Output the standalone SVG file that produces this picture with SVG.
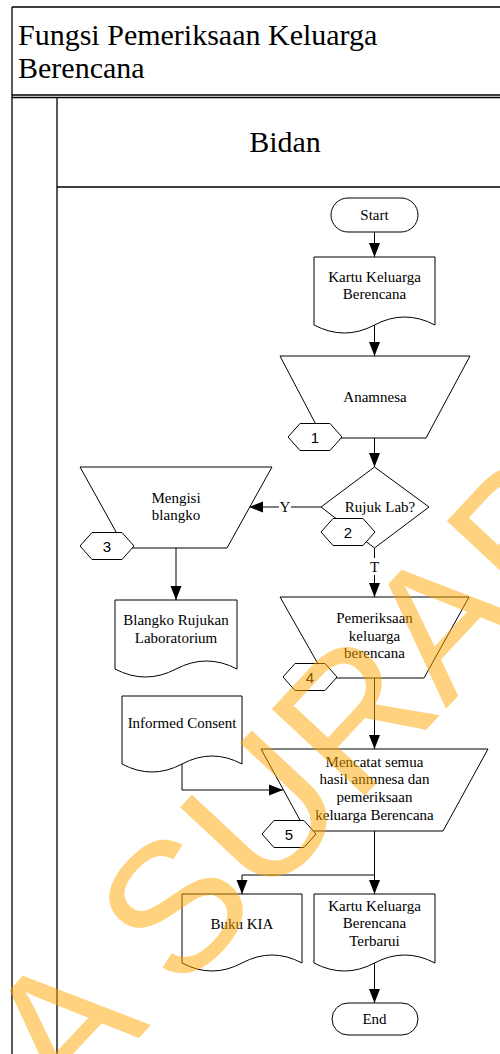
<svg xmlns="http://www.w3.org/2000/svg" width="500" height="1054" viewBox="0 0 500 1054">
  <style>
    .ln { fill: none; stroke: #000; stroke-width: 1.3; }
    .shape { fill: #fff; stroke: #000; stroke-width: 1; }
    .lbl { font-family: "Liberation Serif", "Times New Roman", serif; font-size: 15px; fill: #000; text-anchor: middle; }
    .num { font-family: "Liberation Sans", Arial, sans-serif; font-size: 15px; fill: #000; text-anchor: middle; }
    .head { font-family: "Liberation Serif", "Times New Roman", serif; font-size: 30px; fill: #000; }
    .conn { fill: none; stroke: #000; stroke-width: 1; }
    .wm { font-family: "Liberation Sans", Arial, sans-serif; font-size: 185px; fill: #FFA500; fill-opacity: 0.5; }
  </style>
  <defs>
    <marker id="arrow" markerUnits="userSpaceOnUse" markerWidth="14" markerHeight="12" refX="14" refY="6" orient="auto">
      <path d="M0,0.5 L14,6 L0,11.5 Z" fill="#000"/>
    </marker>
  </defs>

  <rect width="500" height="1054" fill="#fff"/>

  <!-- swimlane frame -->
  <g id="frame">
    <line class="ln" x1="12" y1="7" x2="500" y2="7"/>
    <line class="ln" x1="12" y1="7" x2="12" y2="1054"/>
    <line class="ln" x1="12" y1="95" x2="500" y2="95"/>
    <line class="ln" x1="12" y1="97.5" x2="500" y2="97.5"/>
    <line class="ln" x1="57" y1="97.5" x2="57" y2="1054"/>
    <line class="ln" x1="57" y1="187" x2="500" y2="187"/>
    <text class="head" x="18" y="45">Fungsi Pemeriksaan Keluarga</text>
    <text class="head" x="18" y="78">Berencana</text>
    <text class="head" x="285" y="152" text-anchor="middle">Bidan</text>
  </g>

  <!-- connectors -->
  <g id="connectors">
    <path class="conn" d="M374.5,232 V257" marker-end="url(#arrow)"/>
    <path class="conn" d="M374.5,325 V356" marker-end="url(#arrow)"/>
    <path class="conn" d="M374.5,438 V467" marker-end="url(#arrow)"/>
    <path class="conn" d="M321,507 H291"/>
    <path class="conn" d="M279,507 H249" marker-end="url(#arrow)"/>
    <text class="lbl" x="285" y="512">Y</text>
    <path class="conn" d="M374.5,548 V558"/>
    <path class="conn" d="M374.5,575 V597" marker-end="url(#arrow)"/>
    <text class="lbl" x="374.5" y="572">T</text>
    <path class="conn" d="M176,548 V600" marker-end="url(#arrow)"/>
    <path class="conn" d="M374.5,678 V749" marker-end="url(#arrow)"/>
    <path class="conn" d="M182,764 V790 H283" marker-end="url(#arrow)"/>
    <path class="conn" d="M374.5,831 V894" marker-end="url(#arrow)"/>
    <path class="conn" d="M374.5,875 H242 V894" marker-end="url(#arrow)"/>
    <path class="conn" d="M374.5,963 V1003" marker-end="url(#arrow)"/>
  </g>

  <g id="start">
    <rect class="shape" x="331" y="198" width="87" height="34" rx="17"/>
    <text class="lbl" x="374.5" y="220">Start</text>
  </g>

  <g id="doc-kartu-kb">
    <path class="shape" d="M314,257 H435 V325 Q404.5,309 374.5,325 T314,325 Z"/>
    <text class="lbl" x="374.5" y="282">Kartu Keluarga</text>
    <text class="lbl" x="374.5" y="299">Berencana</text>
  </g>

  <g id="op-anamnesa">
    <polygon class="shape" points="280,356 470,356 426,438 323,438"/>
    <text class="lbl" x="375" y="402">Anamnesa</text>
    <polygon class="shape" points="288,437 300,423.5 330,423.5 342,437 330,450.5 300,450.5"/>
    <text class="num" x="315" y="442.5">1</text>
  </g>

  <g id="dec-rujuk">
    <polygon class="shape" points="374.5,467 429,507 374.5,548 321,507"/>
    <text class="lbl" x="380" y="512">Rujuk Lab?</text>
    <polygon class="shape" points="321,532 333,518.5 363,518.5 375,532 363,545.5 333,545.5"/>
    <text class="num" x="348" y="537.5">2</text>
  </g>

  <g id="op-mengisi">
    <polygon class="shape" points="80,467 272,467 227,548 125,548"/>
    <text class="lbl" x="176" y="503">Mengisi</text>
    <text class="lbl" x="176" y="520">blangko</text>
    <polygon class="shape" points="80,546 92,532.5 122,532.5 134,546 122,559.5 92,559.5"/>
    <text class="num" x="107" y="551.5">3</text>
  </g>

  <g id="doc-blangko">
    <path class="shape" d="M115,600 H237 V669 Q206.5,653 176,669 T115,669 Z"/>
    <text class="lbl" x="176" y="625">Blangko Rujukan</text>
    <text class="lbl" x="176" y="643">Laboratorium</text>
  </g>

  <g id="op-pemeriksaan">
    <polygon class="shape" points="280,597 469,597 424,678 326,678"/>
    <text class="lbl" x="374.5" y="623">Pemeriksaan</text>
    <text class="lbl" x="374.5" y="641">keluarga</text>
    <text class="lbl" x="374.5" y="658">berencana</text>
    <polygon class="shape" points="283,677 295,663.5 325,663.5 337,677 325,690.5 295,690.5"/>
    <text class="num" x="310" y="682.5">4</text>
  </g>

  <g id="doc-informed">
    <path class="shape" d="M122,696 H242 V764 Q212,748 182,764 T122,764 Z"/>
    <text class="lbl" x="182" y="728">Informed Consent</text>
  </g>

  <g id="op-mencatat">
    <polygon class="shape" points="261,749 488,749 443,831 306,831"/>
    <text class="lbl" x="374.5" y="767">Mencatat semua</text>
    <text class="lbl" x="374.5" y="784">hasil anmnesa dan</text>
    <text class="lbl" x="374.5" y="802">pemeriksaan</text>
    <text class="lbl" x="374.5" y="820">keluarga Berencana</text>
    <polygon class="shape" points="262,834 274,820.5 304,820.5 316,834 304,847.5 274,847.5"/>
    <text class="num" x="289" y="839.5">5</text>
  </g>

  <g id="doc-buku-kia">
    <path class="shape" d="M182,894 H302 V963 Q272,947 242,963 T182,963 Z"/>
    <text class="lbl" x="242" y="929">Buku KIA</text>
  </g>

  <g id="doc-kartu-terbarui">
    <path class="shape" d="M314,894 H435 V963 Q404.5,947 374.5,963 T314,963 Z"/>
    <text class="lbl" x="374.5" y="911">Kartu Keluarga</text>
    <text class="lbl" x="374.5" y="928">Berencana</text>
    <text class="lbl" x="374.5" y="946">Terbarui</text>
  </g>

  <g id="end">
    <rect class="shape" x="332" y="1003" width="86" height="32" rx="16"/>
    <text class="lbl" x="374.5" y="1024">End</text>
  </g>

  <!-- translucent diagonal watermark -->
  <text class="wm" x="67" y="1115" transform="rotate(-47 67 1115)">A SURABAYA</text>
</svg>
